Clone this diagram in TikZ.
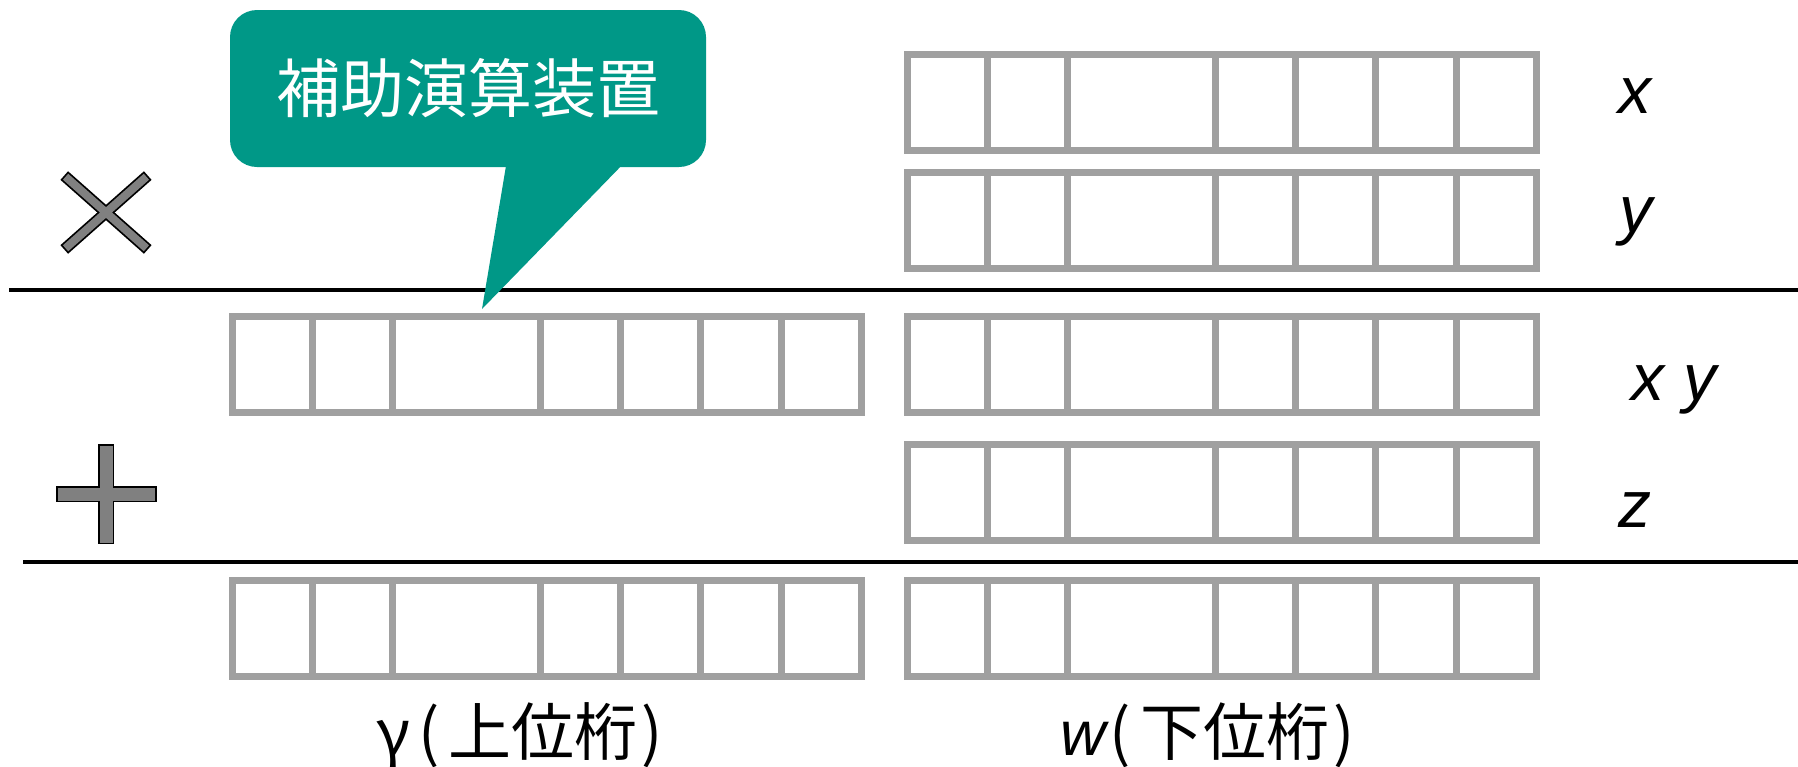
\documentclass[tikz,border=0pt]{standalone}
\usepackage{fontspec}
\setmainfont{Liberation Sans}
\newfontfamily\cjk{Noto Sans CJK JP}
\definecolor{tealbox}{RGB}{0,152,135}
\definecolor{regg}{RGB}{160,160,160}
\definecolor{symg}{RGB}{128,128,128}
\begin{document}
\begin{tikzpicture}[x=1pt,y=-1pt,
  regline/.style={draw=regg, line width=7pt},
  sumline/.style={draw=black, line width=4.5pt},
  lbl/.style={font=\fontsize{66}{70}\selectfont\itshape, inner sep=0pt, anchor=base},
  symout/.style={draw=black, line width=3.5pt},
  symfill/.style={fill=symg},
  reg/.pic={\draw[regline] (0,0) rectangle (629,96);
    \foreach \d in {80,160,308,388,468,549} \draw[regline] (\d,0) -- (\d,96);}
]
\useasboundingbox (0,0) rectangle (1798,766);

% registers
\foreach \yy in {54.5,172,316,444,580.5} \pic at (907,\yy) {reg};
\foreach \yy in {316,580.5} \pic at (232,\yy) {reg};

% sum lines
\draw[sumline] (9,290) -- (1798,290);
\draw[sumline] (23,562) -- (1798,562);

% callout
\fill[tealbox, rounded corners=27pt] (230,10) rectangle (706,167);
\fill[tealbox] (507,160) -- (482,309) -- (627,160) -- cycle;
\node[inner sep=0pt, text=white, font=\cjk\fontsize{64}{70}\selectfont] (callout) at (468,88) {補助演算装置};

% times symbol
\begin{scope}[shift={(106,212.5)}]
  \foreach \a in {41.5,-41.5}
    \draw[symout, rotate=\a] (-54,-4) -- (54,-4) -- (54,4) -- (-54,4) -- cycle;
  \foreach \a in {41.5,-41.5}
    \fill[symfill, rotate=\a] (-54,-4) -- (54,-4) -- (54,4) -- (-54,4) -- cycle;
\end{scope}

% plus symbol
\draw[symout] (100,446) rectangle (112.5,542.5);
\draw[symout] (57.5,488) rectangle (155,500.5);
\fill[symfill] (100,446) rectangle (112.5,542.5);
\fill[symfill] (57.5,488) rectangle (155,500.5);

% labels
\node[lbl] (lx) at (1635,113) {x};
\node[lbl] (ly) at (1636,232) {y};
\node[lbl] (lxy) at (1674,400) {x y};
\node[lbl] (lz) at (1635,527) {z};

\node[inner sep=0pt, font=\cjk\fontsize{63}{70}\selectfont] (hi) at (520,735) {γ\hspace{8pt}(\hspace{9pt}上位桁\hspace{4pt})};
\node[inner sep=0pt] (lo) at (1208,735) {{\fontsize{63}{70}\selectfont\itshape w}\hspace{3pt}{\cjk\fontsize{63}{70}\selectfont (\hspace{10pt}下位桁\hspace{4pt})}};
\end{tikzpicture}
\end{document}
